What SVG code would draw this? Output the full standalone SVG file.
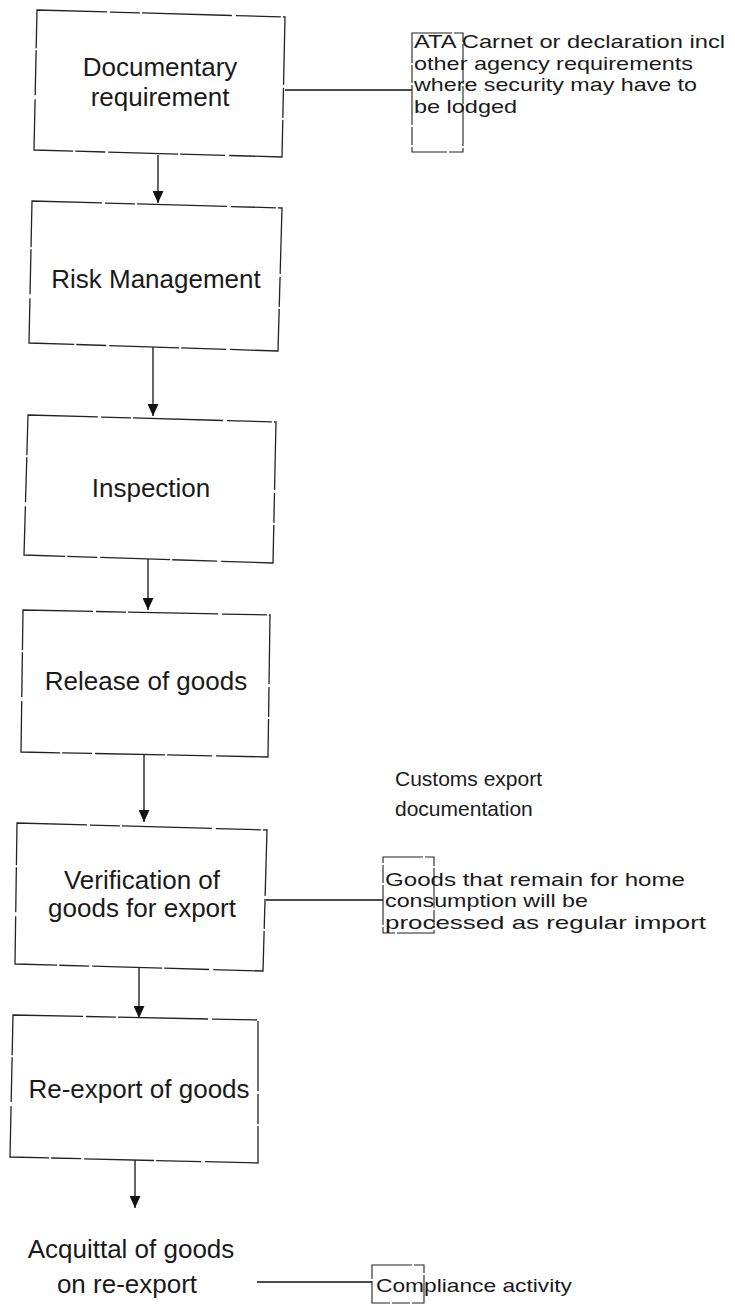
<svg xmlns="http://www.w3.org/2000/svg" width="735" height="1316" viewBox="0 0 735 1316">
  <defs>
    <marker id="arr" viewBox="0 0 12 11" refX="12" refY="5.5" markerWidth="12" markerHeight="11" markerUnits="userSpaceOnUse" orient="auto">
      <path d="M0,0 L12,5.5 L0,11 z" fill="#111"/>
    </marker>
  </defs>
  <style>
    .box { fill: none; stroke: #222; stroke-width: 1.3; stroke-dasharray: 70 3 30 2 90 4 45 2; }
    .tag { fill: none; stroke: #222; stroke-width: 1.1; stroke-dasharray: 40 2 18 2; }
    .lbl { font-family: "Liberation Sans", Arial, sans-serif; font-size: 26px; fill: #1a1a1a; text-anchor: middle; }
    .note { font-family: "Liberation Sans", Arial, sans-serif; font-size: 19px; fill: #1a1a1a; }
    .note2 { font-family: "Liberation Sans", Arial, sans-serif; font-size: 21px; fill: #1a1a1a; }
    .con { fill: none; stroke: #111; stroke-width: 1.3; }
  </style>
  <rect x="0" y="0" width="735" height="1316" fill="#fff"/>

  <g id="connectors">
    <line class="con" x1="158" y1="155" x2="158" y2="203" marker-end="url(#arr)"/>
    <line class="con" x1="153" y1="347" x2="153" y2="416" marker-end="url(#arr)"/>
    <line class="con" x1="148" y1="559" x2="148" y2="610" marker-end="url(#arr)"/>
    <line class="con" x1="144" y1="755" x2="144" y2="822" marker-end="url(#arr)"/>
    <line class="con" x1="139" y1="968" x2="139" y2="1018" marker-end="url(#arr)"/>
    <line class="con" x1="135" y1="1160" x2="135" y2="1208" marker-end="url(#arr)"/>
    <line class="con" x1="285" y1="90" x2="412" y2="90"/>
    <line class="con" x1="266" y1="900" x2="383" y2="900"/>
    <line class="con" x1="257" y1="1282" x2="372" y2="1282"/>
  </g>

  <g id="documentary-requirement">
    <polygon class="box" points="37,10 285,17 282,157 34,150"/>
    <text class="lbl" x="160" y="76">Documentary</text>
    <text class="lbl" x="160" y="106">requirement</text>
  </g>

  <g id="ata-note">
    <rect class="tag" x="412" y="33" width="51" height="119"/>
    <text class="note" x="414" y="48" textLength="311" lengthAdjust="spacingAndGlyphs">ATA Carnet or declaration incl</text>
    <text class="note" x="414" y="70" textLength="279" lengthAdjust="spacingAndGlyphs">other agency requirements</text>
    <text class="note" x="414" y="91" textLength="283" lengthAdjust="spacingAndGlyphs">where security may have to</text>
    <text class="note" x="414" y="113" textLength="103" lengthAdjust="spacingAndGlyphs">be lodged</text>
  </g>

  <g id="risk-management">
    <polygon class="box" points="32,201 282,208 278,351 29,343"/>
    <text class="lbl" x="156" y="288">Risk Management</text>
  </g>

  <g id="inspection">
    <polygon class="box" points="28,415 276,422 273,563 24,555"/>
    <text class="lbl" x="151" y="497">Inspection</text>
  </g>

  <g id="release-of-goods">
    <polygon class="box" points="23,610 270,615 268,757 21,752"/>
    <text class="lbl" x="146" y="690">Release of goods</text>
  </g>

  <g id="customs-export-note">
    <text class="note2" x="395" y="786">Customs export</text>
    <text class="note2" x="395" y="816">documentation</text>
  </g>

  <g id="verification">
    <polygon class="box" points="17,823 267,830 263,971 15,964"/>
    <text class="lbl" x="142" y="889">Verification of</text>
    <text class="lbl" x="142" y="917">goods for export</text>
  </g>

  <g id="goods-note">
    <rect class="tag" x="383" y="857" width="51" height="76"/>
    <text class="note" x="385" y="886" textLength="300" lengthAdjust="spacingAndGlyphs">Goods that remain for home</text>
    <text class="note" x="385" y="907" textLength="203" lengthAdjust="spacingAndGlyphs">consumption will be</text>
    <text class="note" x="385" y="929" textLength="321" lengthAdjust="spacingAndGlyphs">processed as regular import</text>
  </g>

  <g id="re-export-of-goods">
    <polygon class="box" points="13,1015 258,1020 258,1163 10,1157"/>
    <text class="lbl" x="139" y="1098">Re-export of goods</text>
  </g>

  <g id="acquittal">
    <text class="lbl" x="131" y="1258">Acquittal of goods</text>
    <text class="lbl" x="127" y="1293">on re-export</text>
  </g>

  <g id="compliance-note">
    <rect class="tag" x="372" y="1265" width="52" height="38"/>
    <text class="note" x="376" y="1292" textLength="196" lengthAdjust="spacingAndGlyphs">Compliance activity</text>
  </g>
</svg>
